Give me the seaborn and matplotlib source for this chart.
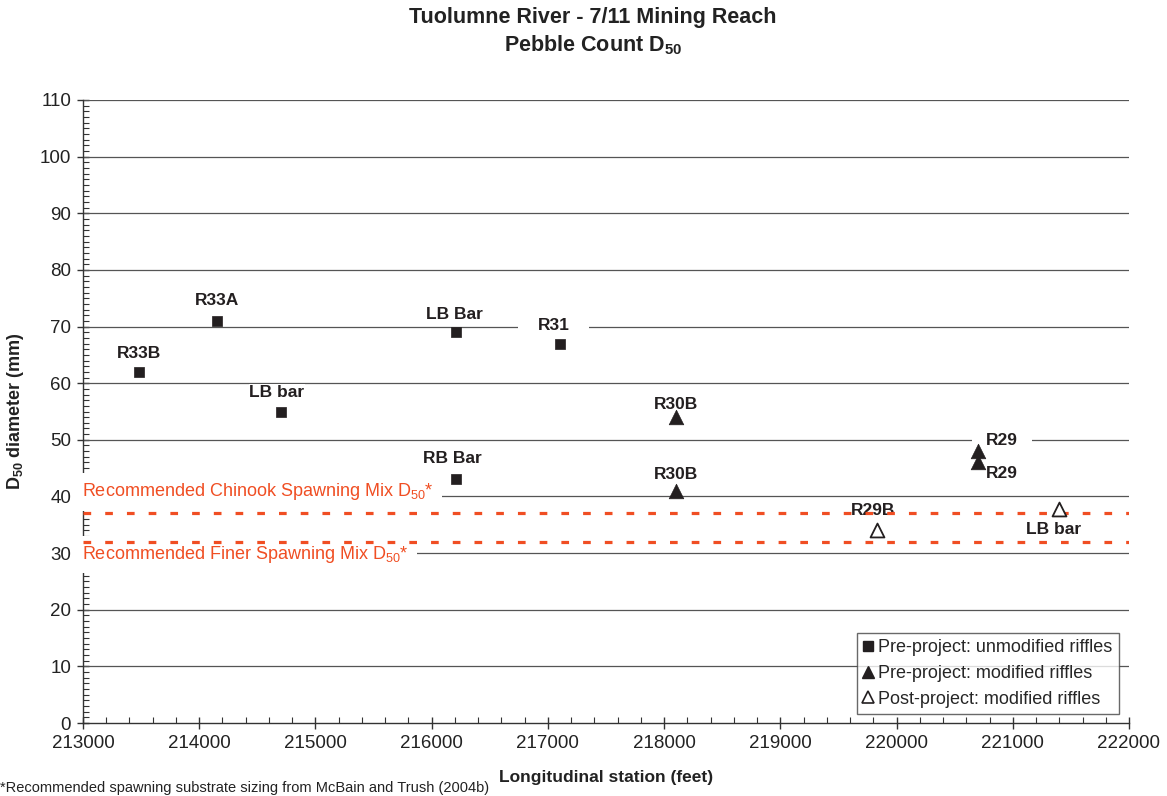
import numpy as np
import pandas as pd
import matplotlib
matplotlib.use("Agg")
import matplotlib.pyplot as plt
from matplotlib.lines import Line2D
from matplotlib.ticker import MultipleLocator, FuncFormatter
import seaborn as sns

# ---- data ----
unmod_x = [213480, 214150, 214700, 216210, 216210, 217100]
unmod_y = [62, 71, 55, 69, 43, 67]
unmod_labels = ["R33B", "R33A", "LB bar", "LB Bar", "RB Bar", "R31"]

mod_x = [218100, 218100, 220700, 220700]
mod_y = [54, 41, 48, 46]
mod_labels = ["R30B", "R30B", "R29", "R29"]

post_x = [219830, 221400]
post_y = [34, 37.7]
post_labels = ["R29B", "LB bar"]

chinook_mix = 37
finer_mix = 32

series_names = ["Pre-project: unmodified riffles",
                "Pre-project: modified riffles",
                "Post-project: modified riffles"]

# ---- label placement (pixel offsets, ha, box pad in px) ----
unmod_off = [(0, 18, "center", 1), (0, 20, "center", 1), (-4, 19, "center", 0.5),
             (-2, 18, "center", 1), (-4, 21, "center", 1), (-6, 18, "center", 20)]
mod_off = [(0, 13, "center", 1), (0, 16, "center", 1),
           (8, 11, "left", 14), (8, -11, "left", 1)]
post_off = [(-4, 20, "center", 1), (-6, -20, "center", 1)]

sns.set_style("white")
plt.rcParams["font.family"] = ["Liberation Sans", "DejaVu Sans"]
plt.rcParams["mathtext.fontset"] = "custom"
plt.rcParams["mathtext.rm"] = "Liberation Sans"
plt.rcParams["mathtext.bf"] = "Liberation Sans:bold"

fig = plt.figure(figsize=(11.67, 7.96), dpi=100)
ax = fig.add_axes([83/1167, 1-723/796, (1129-83)/1167, (723-100)/796])

df = pd.DataFrame({
    "x": unmod_x + mod_x + post_x,
    "y": unmod_y + mod_y + post_y,
    "grp": [series_names[0]]*len(unmod_x) + [series_names[1]]*len(mod_x)
           + [series_names[2]]*len(post_x),
})

dark = "#231F20"
red = "#F04E23"

sns.scatterplot(data=df[df.grp == series_names[0]], x="x", y="y", marker="s",
                s=60, color=dark, edgecolor=dark, linewidth=0.5, ax=ax,
                zorder=6, legend=False)
sns.scatterplot(data=df[df.grp == series_names[1]], x="x", y="y", marker="^",
                s=110, color=dark, edgecolor=dark, linewidth=0.5, ax=ax,
                zorder=6, legend=False)
sns.scatterplot(data=df[df.grp == series_names[2]], x="x", y="y", marker="^",
                s=100, facecolor="white", edgecolor=dark, linewidth=1.3, ax=ax,
                zorder=6, legend=False)

ax.set_xlim(213000, 222000)
ax.set_ylim(0, 110)

# gridlines
for yv in range(10, 111, 10):
    ax.axhline(yv, color="#555555", lw=0.9, zorder=1)

# recommended mixes
for yv in (chinook_mix, finer_mix):
    ax.axhline(yv, color=red, lw=2.3, dashes=(2.4, 4.4), zorder=5)

ax.text(212990, 40.8, r"Recommended Chinook Spawning Mix D$_{50}$*", color=red,
        fontsize=13, ha="left", va="center", zorder=4, clip_on=False,
        bbox=dict(facecolor="white", edgecolor="none", boxstyle="square,pad=0.45"))
ax.text(212990, 29.7, r"Recommended Finer Spawning Mix D$_{50}$*", color=red,
        fontsize=13, ha="left", va="center", zorder=4, clip_on=False,
        bbox=dict(facecolor="white", edgecolor="none", boxstyle="square,pad=0.45"))

LBL_FS = 12.5

def put_labels(xs, ys, labs, offs):
    for x, y, lab, (dx, dy, ha, pad) in zip(xs, ys, labs, offs):
        ax.annotate(lab, (x, y), xytext=(dx, dy), textcoords="offset pixels",
                    ha=ha, va="center", fontsize=LBL_FS, fontweight="bold",
                    color="#231F20", zorder=4,
                    bbox=dict(facecolor="white", edgecolor="none",
                              boxstyle=f"square,pad={pad*0.72/LBL_FS:.3f}"))

put_labels(unmod_x, unmod_y, unmod_labels, unmod_off)
put_labels(mod_x, mod_y, mod_labels, mod_off)
put_labels(post_x, post_y, post_labels, post_off)

# axes styling
for s in ["top", "right"]:
    ax.spines[s].set_visible(False)
for s in ["left", "bottom"]:
    ax.spines[s].set_color("#333333")
    ax.spines[s].set_linewidth(1.0)
ax.xaxis.set_major_locator(MultipleLocator(1000))
ax.xaxis.set_minor_locator(MultipleLocator(200))
ax.yaxis.set_major_locator(MultipleLocator(10))
ax.yaxis.set_minor_locator(MultipleLocator(1))
ax.tick_params(which="major", direction="inout", length=9, width=1,
               color="#333333", labelsize=13.5, labelcolor="#222222", pad=4)
ax.tick_params(which="minor", direction="in", length=4, width=0.8,
               color="#333333")
ax.tick_params(axis="x", which="both", bottom=True)
ax.tick_params(axis="y", which="both", left=True)
ax.xaxis.set_major_formatter(FuncFormatter(lambda v, p: f"{int(v)}"))

ax.set_xlabel("Longitudinal station (feet)", fontsize=12.5, fontweight="bold",
              color="#222222", labelpad=13)
ax.set_ylabel(r"D$_{\mathbf{50}}$ diameter (mm)", fontsize=13, fontweight="bold",
              color="#222222", labelpad=10)

# legend
handles = [
    Line2D([], [], marker="s", ls="none", color=dark, markersize=7),
    Line2D([], [], marker="^", ls="none", color=dark, markersize=9),
    Line2D([], [], marker="^", ls="none", markerfacecolor="white",
           markeredgecolor=dark, markeredgewidth=1.2, markersize=9),
]
leg = ax.legend(handles, series_names, loc="lower right",
                bbox_to_anchor=(0.990, 0.0144), fontsize=13, frameon=True,
                fancybox=False, edgecolor="#444444", handlelength=0.55,
                handletextpad=0.25, borderpad=0.35, labelspacing=0.48,
                borderaxespad=0)
leg.get_frame().set_linewidth(1.0)
leg.set_zorder(7)

# titles
fig.text(593/1167, 1-17/796, "Tuolumne River - 7/11 Mining Reach", ha="center",
         va="center", fontsize=15.5, fontweight="bold", color="#222222")
fig.text(593/1167, 1-45/796, r"Pebble Count D$_{\mathbf{50}}$", ha="center",
         va="center", fontsize=15.5, fontweight="bold", color="#222222")

# footnote
fig.text(0.0, 1/796, "*Recommended spawning substrate sizing from McBain and Trush (2004b)",
         ha="left", va="bottom", fontsize=10.5, color="#222222")

fig.savefig("out.png", dpi=100)
